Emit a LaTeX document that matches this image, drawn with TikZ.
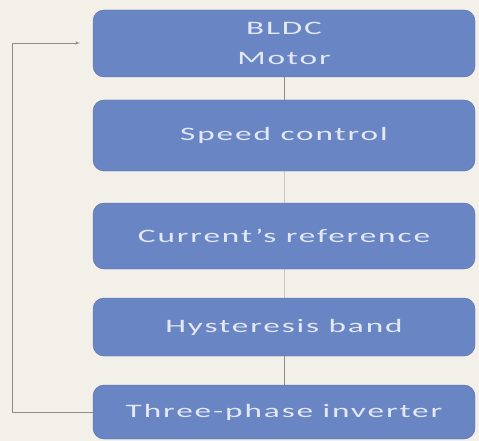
\documentclass[tikz,border=0pt]{standalone}
\usepackage{fontspec}
\setmainfont{Carlito}[FakeStretch=1.75,LetterSpace=10]
\usetikzlibrary{arrows}
\definecolor{paper}{HTML}{F3F0EA}
\definecolor{boxblue}{HTML}{6A85C3}
\definecolor{boxedge}{HTML}{5A6EA8}
\definecolor{boxtext}{HTML}{E2E8F6}
\definecolor{linegray}{HTML}{8C8C8C}
\tikzset{block/.style = {draw=boxedge, fill=boxblue, rounded corners=11,
                         minimum width=382, inner sep=0, text=boxtext,
                         font=\fontsize{19}{30}\selectfont, align=center}}
\tikzset{link/.style = {draw=linegray, line width=0.6}}

\begin{document}
\begin{tikzpicture}[x=1pt, y=-1pt]
    \fill [paper] (0, 0) rectangle (479, 441);
    \useasboundingbox (0, 0) rectangle (479, 441);

    \node [block, minimum height=67] (motor) at (284, 43.5) {BLDC\\Motor};
    \node [block, minimum height=71] (speed) at (284, 135.5) {Speed control};
    \node [block, minimum height=66] (curref) at (284, 236) {Current's reference};
    \node [block, minimum height=58] (hyst) at (284, 327) {Hysteresis band};
    \node [block, minimum height=54] (inverter) at (284, 412) {Three-phase inverter};

    \draw [link] (motor) -- (speed);
    \draw [link, draw opacity=0.4] (speed) -- (curref);
    \draw [link, draw opacity=0.4] (curref) -- (hyst);
    \draw [link] (hyst) -- (inverter);

    \coordinate (fbend) at (80, 43);
    \draw [link, -latex'] (inverter.west) -- (12, 412) |- (fbend);
  \end{tikzpicture}
\end{document}
